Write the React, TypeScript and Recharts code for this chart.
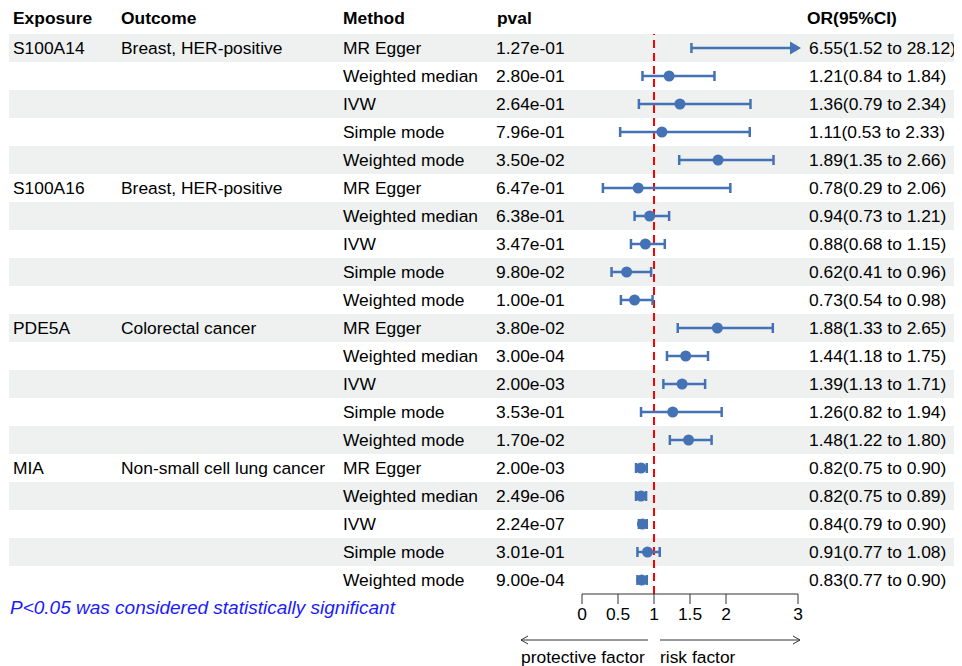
import { ComposedChart, Scatter, ErrorBar, XAxis, YAxis, ReferenceLine, ReferenceDot } from 'recharts';

const exposures = ['S100A14', '', '', '', '', 'S100A16', '', '', '', '', 'PDE5A', '', '', '', '', 'MIA', '', '', '', ''];
const outcomes = ['Breast, HER-positive', '', '', '', '', 'Breast, HER-positive', '', '', '', '', 'Colorectal cancer', '', '', '', '', 'Non-small cell lung cancer', '', '', '', ''];
const methods = ['MR Egger', 'Weighted median', 'IVW', 'Simple mode', 'Weighted mode'];
const pvals = [
  '1.27e-01', '2.80e-01', '2.64e-01', '7.96e-01', '3.50e-02',
  '6.47e-01', '6.38e-01', '3.47e-01', '9.80e-02', '1.00e-01',
  '3.80e-02', '3.00e-04', '2.00e-03', '3.53e-01', '1.70e-02',
  '2.00e-03', '2.49e-06', '2.24e-07', '3.01e-01', '9.00e-04',
];
const orValues = [6.55, 1.21, 1.36, 1.11, 1.89, 0.78, 0.94, 0.88, 0.62, 0.73, 1.88, 1.44, 1.39, 1.26, 1.48, 0.82, 0.82, 0.84, 0.91, 0.83];
const lowerCI = [1.52, 0.84, 0.79, 0.53, 1.35, 0.29, 0.73, 0.68, 0.41, 0.54, 1.33, 1.18, 1.13, 0.82, 1.22, 0.75, 0.75, 0.79, 0.77, 0.77];
const upperCI = [28.12, 1.84, 2.34, 2.33, 2.66, 2.06, 1.21, 1.15, 0.96, 0.98, 2.65, 1.75, 1.71, 1.94, 1.80, 0.90, 0.89, 0.90, 1.08, 0.90];
const xTicks = [0, 0.5, 1, 1.5, 2, 3];
const headers = ['Exposure', 'Outcome', 'Method', 'pval', 'OR(95%CI)'];

const XMAX = 3;
const BLUE = '#4472B4';
const SHADE = '#EEF1F0';
const FONT = '"Liberation Sans", Arial, sans-serif';
const FS = 17.4;
const TOP = 26;
const ROW_H = 28;

// intervals are cut at the axis end; rows that run past it get an arrow
const rows = orValues.map((v, i) => ({
  row: i + 1,
  or: v,
  err: [v - lowerCI[i], Math.min(upperCI[i], XMAX) - v],
}));
const overflowRows = rows.filter((r, i) => upperCI[i] > XMAX);
const rowTicks = rows.map((r) => r.row);

// column text for each row, plus the header above the first row
const RowTick = ({ y, payload, index }: any) => {
  const i = payload.value - 1;
  const orLabel = `${orValues[i].toFixed(2)}(${lowerCI[i].toFixed(2)} to ${upperCI[i].toFixed(2)})`;
  return (
    <g style={{ fontFamily: FONT, fontSize: FS }} fill='#000'>
      {index === 0 && (
        <g fontWeight='bold'>
          <text x={5} y={y - 30} dy='0.35em'>{headers[0]}</text>
          <text x={113} y={y - 30} dy='0.35em'>{headers[1]}</text>
          <text x={335} y={y - 30} dy='0.35em'>{headers[2]}</text>
          <text x={489} y={y - 30} dy='0.35em'>{headers[3]}</text>
          <text x={799} y={y - 30} dy='0.35em'>{headers[4]}</text>
        </g>
      )}
      <text x={5} y={y} dy='0.35em'>{exposures[i]}</text>
      <text x={113} y={y} dy='0.35em'>{outcomes[i]}</text>
      <text x={335} y={y} dy='0.35em'>{methods[i % 5]}</text>
      <text x={488} y={y} dy='0.35em'>{pvals[i]}</text>
      <text x={801} y={y} dy='0.35em'>{orLabel}</text>
    </g>
  );
};

const Dot = ({ cx, cy }: any) => <circle cx={cx} cy={cy} r={5.5} fill={BLUE} />;

const ArrowHead = ({ cx, cy }: any) => (
  <g>
    <rect x={cx - 1.5} y={cy - 7} width={4} height={14} fill={SHADE} />
    <path d={`M${cx + 3},${cy} L${cx - 8},${cy - 6.5} L${cx - 8},${cy + 6.5} Z`} fill={BLUE} />
  </g>
);

const FactorLabel = ({ viewBox }: any) => {
  const { x, y, width } = viewBox;
  const mid = x + width / 3;
  const ay = y + 46;
  return (
    <g style={{ fontFamily: FONT, fontSize: FS }} fill='#000'>
      <line x1={mid - 133} y1={ay} x2={mid - 6} y2={ay} stroke='#333' strokeWidth={1} />
      <path d={`M${mid - 133},${ay} l7,-4 M${mid - 133},${ay} l7,4`} stroke='#333' fill='none' />
      <line x1={mid + 6} y1={ay} x2={x + width + 2} y2={ay} stroke='#333' strokeWidth={1} />
      <path d={`M${x + width + 2},${ay} l-7,-4 M${x + width + 2},${ay} l-7,4`} stroke='#333' fill='none' />
      <text x={mid - 133} y={ay + 17} dy='0.35em'>protective factor</text>
      <text x={mid + 6} y={ay + 17} dy='0.35em'>risk factor</text>
    </g>
  );
};

export default function App() {
  return (
    <div style={{ position: 'relative', width: 954, height: 658 }}>
      {rows
        .filter((r) => r.row % 2 === 1)
        .map((r) => (
          <div
            key={r.row}
            style={{
              position: 'absolute',
              left: 1,
              width: 953,
              top: TOP + (r.row - 1) * ROW_H,
              height: ROW_H,
              background: SHADE,
            }}
          />
        ))}
      <div style={{ position: 'absolute', left: 0, top: 0 }}>
        <ComposedChart width={954} height={658} data={rows} margin={{ top: TOP, right: 164, bottom: 3, left: 0 }}>
          <XAxis
            type='number'
            dataKey='or'
            domain={[0, XMAX]}
            allowDataOverflow
            ticks={xTicks}
            interval={0}
            height={69}
            tickSize={10}
            tickMargin={4}
            stroke='#333'
            tick={{ fill: '#000', fontSize: FS, fontFamily: FONT }}
            label={<FactorLabel />}
          />
          <YAxis
            type='number'
            dataKey='row'
            domain={[0.5, 20.5]}
            reversed
            ticks={rowTicks}
            interval={0}
            width={574}
            axisLine={false}
            tickLine={false}
            tick={<RowTick />}
          />
          <ReferenceLine x={1} stroke='#FF0000' strokeWidth={2} strokeDasharray='8 5' />
          <Scatter dataKey='or' shape={<Dot />} isAnimationActive={false}>
            <ErrorBar dataKey='err' direction='x' width={5} stroke={BLUE} strokeWidth={2.5} />
          </Scatter>
          {overflowRows.map((r) => (
            <ReferenceDot key={r.row} x={XMAX} y={r.row} shape={<ArrowHead />} ifOverflow='visible' />
          ))}
        </ComposedChart>
      </div>
      <div
        style={{
          position: 'absolute',
          left: 2,
          top: 589,
          fontFamily: FONT,
          fontSize: 19,
          fontStyle: 'italic',
          color: '#1A1AFF',
        }}
      >
        P&lt;0.05 was considered statistically significant
      </div>
    </div>
  );
}
